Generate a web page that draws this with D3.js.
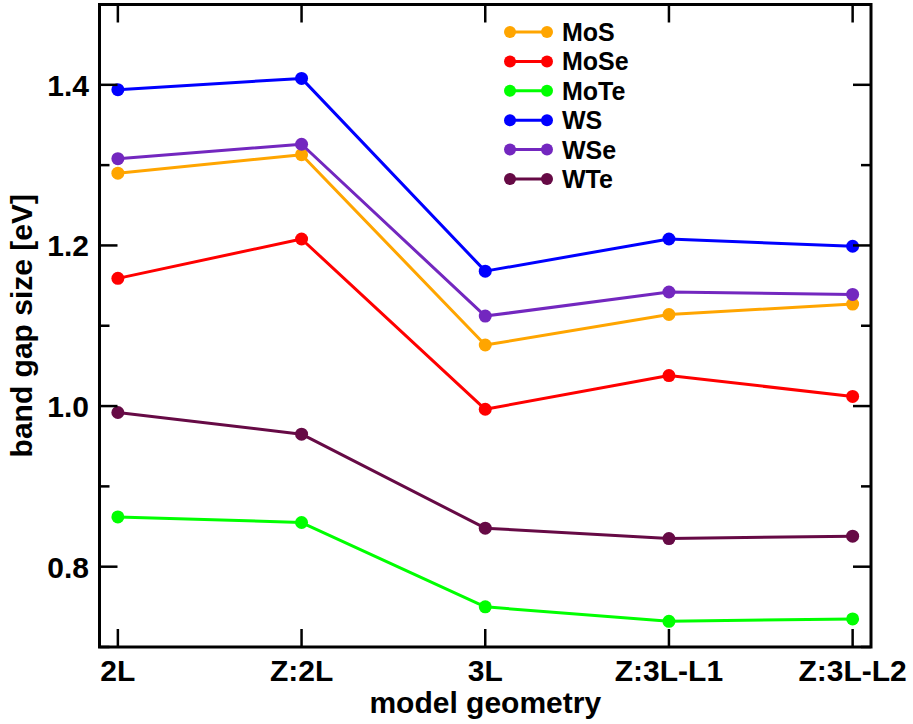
<!DOCTYPE html>
<html><head><meta charset="utf-8">
<script src="https://cdn.jsdelivr.net/npm/d3@7"></script>
<style>body{margin:0;background:#fff}svg{display:block}text{font-family:"Liberation Sans",Arial,sans-serif;font-weight:bold;fill:#000}</style>
</head><body><svg id="c" width="913" height="724"></svg>
<script>
const categories = ["2L", "Z:2L", "3L", "Z:3L-L1", "Z:3L-L2"];
const seriesNames = ["MoS", "MoSe", "MoTe", "WS", "WSe", "WTe"];
const seriesColors = ["#ffa500", "#ff0000", "#00ff00", "#0000ff", "#7327bf", "#660a45"];
const MoS  = [1.290, 1.313, 1.076, 1.114, 1.127];
const MoSe = [1.159, 1.208, 0.996, 1.038, 1.012];
const MoTe = [0.862, 0.855, 0.750, 0.732, 0.735];
const WS   = [1.394, 1.408, 1.168, 1.208, 1.199];
const WSe  = [1.308, 1.326, 1.112, 1.142, 1.139];
const WTe  = [0.992, 0.965, 0.848, 0.835, 0.838];
const seriesValues = [MoS, MoSe, MoTe, WS, WSe, WTe];
const yMajorTicks = [0.8, 1.0, 1.2, 1.4];
const yMinorTicks = [0.7, 0.9, 1.1, 1.3, 1.5];
const xLabel = "model geometry";
const yLabel = "band gap size [eV]";

const svg = d3.select("#c");
const L = 99.5, R = 871, T = 4.5, B = 647;
const x = d3.scaleLinear().domain([-0.1, 4.1]).range([L, R]);
const y = d3.scaleLinear().domain([0.7, 1.5]).range([B, T]);
const idx = categories.map((c, i) => i);

const line = d3.line().x((d, i) => x(i)).y(d => y(d));
const gS = svg.append("g");
seriesValues.forEach((vals, s) => {
  gS.append("path").attr("d", line(vals)).attr("fill", "none")
    .attr("stroke", seriesColors[s]).attr("stroke-width", 3).attr("stroke-linejoin", "round");
  gS.selectAll(null).data(vals).enter().append("circle")
    .attr("cx", (d, i) => x(i)).attr("cy", d => y(d)).attr("r", 6.5)
    .attr("fill", seriesColors[s]);
});

// frame
svg.append("rect").attr("x", L).attr("y", T).attr("width", R - L).attr("height", B - T)
  .attr("fill", "none").attr("stroke", "#000").attr("stroke-width", 3);

const tickG = svg.append("g").attr("stroke", "#000").attr("stroke-width", 2.5);
const MAJ = 18, MIN = 10;
idx.forEach(i => {
  tickG.append("line").attr("x1", x(i)).attr("x2", x(i)).attr("y1", B).attr("y2", B - MAJ);
  tickG.append("line").attr("x1", x(i)).attr("x2", x(i)).attr("y1", T).attr("y2", T + MAJ);
});
yMajorTicks.forEach(v => {
  tickG.append("line").attr("x1", L).attr("x2", L + MAJ).attr("y1", y(v)).attr("y2", y(v));
  tickG.append("line").attr("x1", R).attr("x2", R - MAJ).attr("y1", y(v)).attr("y2", y(v));
});
yMinorTicks.forEach(v => {
  tickG.append("line").attr("x1", L).attr("x2", L + MIN).attr("y1", y(v)).attr("y2", y(v));
  tickG.append("line").attr("x1", R).attr("x2", R - MIN).attr("y1", y(v)).attr("y2", y(v));
});

// tick labels
svg.selectAll(null).data(categories).enter().append("text")
  .attr("x", (d, i) => x(i)).attr("y", 681).attr("text-anchor", "middle")
  .attr("font-size", 30).text(d => d);
svg.selectAll(null).data(yMajorTicks).enter().append("text")
  .attr("x", 89).attr("y", d => y(d) + 11).attr("text-anchor", "end")
  .attr("font-size", 30).text(d => d3.format(".1f")(d));

// axis titles
svg.append("text").attr("x", (L + R) / 2).attr("y", 713).attr("text-anchor", "middle")
  .attr("font-size", 30).text(xLabel);
svg.append("text").attr("transform", `translate(32,${(T + B) / 2}) rotate(-90)`)
  .attr("text-anchor", "middle").attr("font-size", 30).text(yLabel);

// legend
const lg = svg.append("g");
seriesNames.forEach((n, s) => {
  const ly = 32 + s * 29.4;
  lg.append("line").attr("x1", 510).attr("x2", 547).attr("y1", ly).attr("y2", ly)
    .attr("stroke", seriesColors[s]).attr("stroke-width", 3);
  [510, 547].forEach(cx => lg.append("circle").attr("cx", cx).attr("cy", ly).attr("r", 6).attr("fill", seriesColors[s]));
  lg.append("text").attr("x", 562).attr("y", ly + 9).attr("font-size", 25).text(n);
});
</script></body></html>
